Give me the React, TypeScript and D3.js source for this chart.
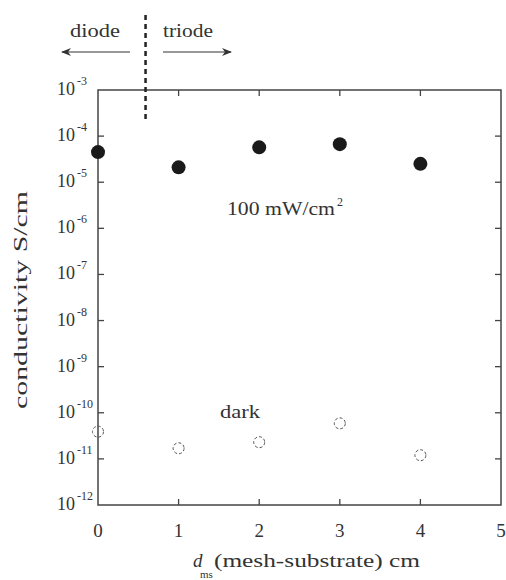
import React from "react";
import * as d3 from "d3";

const xTicks = [0, 1, 2, 3, 4, 5];
const yExponents = [-3, -4, -5, -6, -7, -8, -9, -10, -11, -12];
const distance = [0, 1, 2, 3, 4];
const illuminated = [4.5e-5, 2.1e-5, 5.7e-5, 6.7e-5, 2.5e-5];
const dark = [3.9e-11, 1.7e-11, 2.3e-11, 5.9e-11, 1.2e-11];
const boundaryX = 0.59;

const W = 506, H = 580;
const L = 98, R = 501, T = 90, B = 505;
const font = "'Liberation Serif', Tinos, 'Nimbus Roman', 'Nimbus Roman No9 L', FreeSerif, 'Times New Roman', Times, 'DejaVu Serif', 'Noto Serif', serif";
const ink = "#333";
const ts = { fontFamily: font } as React.CSSProperties;

export default function App() {
  const x = d3.scaleLinear().domain([0, 5]).range([L, R]);
  const y = d3.scaleLog().domain([1e-12, 1e-3]).range([B, T]);
  const tl = 6;
  return (
    <svg width={W} height={H} style={{ position: "absolute", left: 0, top: 0, background: "#fff", fontFamily: font }}>
      <defs>
        <marker id="ah" viewBox="0 0 10 10" refX="9" refY="5" markerWidth="10" markerHeight="10" orient="auto-start-reverse" markerUnits="userSpaceOnUse">
          <path d="M0,1 L10,5 L0,9 L3,5 Z" fill={ink} />
        </marker>
      </defs>
      <rect x={L} y={T} width={R - L} height={B - T} fill="none" stroke="#444" strokeWidth={1.5} />
      {xTicks.slice(1, -1).map((t) => (
        <g key={t}>
          <line x1={x(t)} x2={x(t)} y1={B} y2={B - tl} stroke="#444" strokeWidth={1.3} />
          <line x1={x(t)} x2={x(t)} y1={T} y2={T + tl} stroke="#444" strokeWidth={1.3} />
        </g>
      ))}
      {xTicks.map((t) => (
        <text key={t} x={x(t)} y={537} textAnchor="middle" fontSize={19} fill={ink} style={ts}>{t}</text>
      ))}
      {yExponents.map((e) => {
        const yy = y(Math.pow(10, e));
        return (
          <g key={e}>
            {e !== -3 && e !== -12 && (
              <>
                <line x1={L} x2={L + tl} y1={yy} y2={yy} stroke="#444" strokeWidth={1.3} />
                <line x1={R} x2={R - tl} y1={yy} y2={yy} stroke="#444" strokeWidth={1.3} />
              </>
            )}
            <text x={75} y={yy + 5} textAnchor="end" fontSize={18} fill={ink} style={ts}>10</text>
            <text x={77} y={yy - 5} fontSize={12} fill={ink} style={ts}>{e}</text>
          </g>
        );
      })}
      <line x1={x(boundaryX)} x2={x(boundaryX)} y1={15} y2={122} stroke="#222" strokeWidth={2.5} strokeDasharray="5,4" />
      <text x={95} y={37} textAnchor="middle" fontSize={19} fill={ink} style={ts} textLength={50} lengthAdjust="spacingAndGlyphs">diode</text>
      <text x={188} y={37} textAnchor="middle" fontSize={19} fill={ink} style={ts} textLength={50} lengthAdjust="spacingAndGlyphs">triode</text>
      <line x1={130} x2={62} y1={52} y2={52} stroke={ink} strokeWidth={1.2} markerEnd="url(#ah)" />
      <line x1={163} x2={231} y1={52} y2={52} stroke={ink} strokeWidth={1.2} markerEnd="url(#ah)" />
      {distance.map((d, i) => (
        <circle key={"f" + i} cx={x(d)} cy={y(illuminated[i])} r={7} fill="#1a1a1a" />
      ))}
      {distance.map((d, i) => (
        <circle key={"o" + i} cx={x(d)} cy={y(dark[i])} r={5.5} fill="none" stroke="#555" strokeWidth={1} strokeDasharray="3,2" />
      ))}
      <text x={227} y={215} fontSize={19} fill={ink} style={ts} textLength={108} lengthAdjust="spacingAndGlyphs">100 mW/cm</text>
      <text x={337} y={206} fontSize={12} fill={ink} style={ts}>2</text>
      <text x={220} y={418} fontSize={19} fill={ink} style={ts} textLength={40} lengthAdjust="spacingAndGlyphs">dark</text>
      <text transform={`translate(27,${300}) rotate(-90)`} textAnchor="middle" fontSize={18} fill={ink} style={ts} textLength={218} lengthAdjust="spacingAndGlyphs">conductivity S/cm</text>
      <text x={193} y={567} fontSize={19} fill={ink} style={{ ...ts, fontStyle: "italic" }}>d</text>
      <text x={200} y={578} fontSize={11} fill={ink} style={ts}>ms</text>
      <text x={214} y={567} fontSize={19} fill={ink} style={ts} textLength={206} lengthAdjust="spacingAndGlyphs">(mesh-substrate) cm</text>
    </svg>
  );
}
